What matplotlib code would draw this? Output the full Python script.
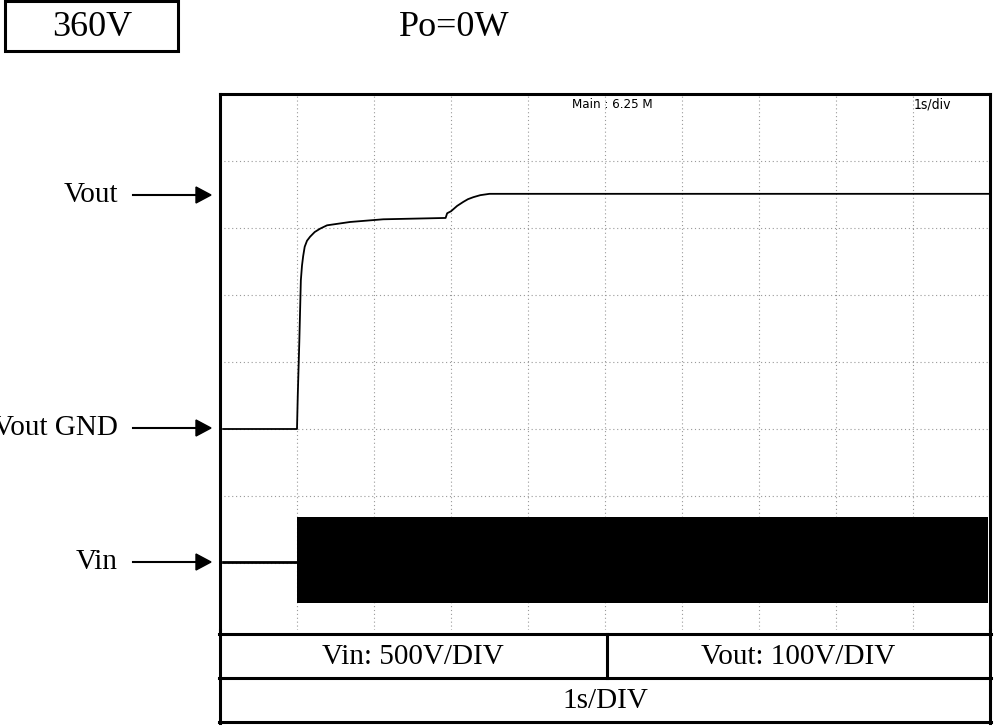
import matplotlib
matplotlib.use("Agg")
import matplotlib.pyplot as plt
from matplotlib.lines import Line2D
from matplotlib.patches import Rectangle, Polygon

# scope settings
vout_per_div = 100   # V/div
vin_per_div = 500    # V/div
vout_gnd_div = 3.0   # Vout ground marker (divisions from bottom)
vin_gnd_div = 1.02   # Vin ground marker

# Vout trace (s, V)
vout_t = [0.04, 1.00, 1.01, 1.03, 1.05, 1.065, 1.08, 1.10, 1.13, 1.17, 1.23, 1.30, 1.39,
          1.69, 2.12, 2.93, 2.95, 3.00, 3.08, 3.16, 3.22, 3.29, 3.38, 3.50, 9.98]
vout_v = [0, 0, 50, 130, 222, 244, 258, 272, 281, 287, 294, 299, 304,
          309, 313, 315, 322, 325, 333, 339, 343, 346, 349, 351, 351]

# Vin before start (s, V)
vin_pre_t = [0.04, 1.00]
vin_pre_v = [0, 0]
# Vin switching envelope (s, V)
vin_band_t = [1.00, 9.97]
vin_band_hi = [330, 330]
vin_band_lo = [-310, -310]

W, H = 994, 726
fig = plt.figure(figsize=(W / 100, H / 100), dpi=100)
serif = "Liberation Serif"


def fx(x):
    return x / W


def fy(y):
    return 1 - y / H


ax = fig.add_axes([fx(220), fy(630), (990 - 220) / W, (630 - 94) / H])
ax.set_xlim(0, 10)
ax.set_ylim(0, 8)
ax.set_xticks(range(1, 10))
ax.set_yticks(range(1, 8))
ax.tick_params(length=0, labelbottom=False, labelleft=False)
ax.set_axisbelow(True)
ax.grid(True, color="#999999", lw=0.8, ls=(0, (1, 2.5)))
for s in ["left", "top", "right"]:
    ax.spines[s].set_linewidth(2.2)
ax.spines["bottom"].set_visible(False)

ax.plot(vout_t, [vout_gnd_div + v / vout_per_div for v in vout_v], color="black", lw=1.3)
ax.plot(vin_pre_t, [vin_gnd_div + v / vin_per_div for v in vin_pre_v], color="black", lw=2)
ax.fill_between(vin_band_t,
                [vin_gnd_div + v / vin_per_div for v in vin_band_lo],
                [vin_gnd_div + v / vin_per_div for v in vin_band_hi],
                color="black", lw=0, zorder=3)

# on-screen annotations
fig.text(fx(572), fy(105), "Main : 6.25 M", family="DejaVu Sans", fontstretch="condensed",
         fontsize=9.5, va="center")
fig.text(fx(914), fy(104), "1s/div", family="DejaVu Sans", fontstretch="condensed",
         fontsize=10, va="center")

# header
fig.add_artist(Rectangle((fx(5), fy(51)), (178 - 5) / W, 50 / H, transform=fig.transFigure,
                         fill=False, lw=2.2, ec="black"))
fig.text(fx(92), fy(28), "360V", family=serif, fontsize=26, ha="center", va="center")
fig.text(fx(454), fy(28), "Po=0W", family=serif, fontsize=26, ha="center", va="center")

# left labels with arrows
for label, y in [("Vout", 195), ("Vout GND", 428), ("Vin", 562)]:
    fig.text(fx(118), fy(y), label, family=serif, fontsize=21, ha="right", va="center")
    fig.add_artist(Line2D([fx(133), fx(198)], [fy(y), fy(y)], transform=fig.transFigure,
                          color="black", lw=1.5))
    fig.add_artist(Polygon([(fx(196), fy(y - 8)), (fx(211), fy(y)), (fx(196), fy(y + 8))],
                           closed=True, transform=fig.transFigure, color="black"))


# table under the screen
def hline(x0, x1, y):
    fig.add_artist(Line2D([fx(x0), fx(x1)], [fy(y), fy(y)], transform=fig.transFigure,
                          color="black", lw=2.2))


def vline(x, y0, y1):
    fig.add_artist(Line2D([fx(x), fx(x)], [fy(y0), fy(y1)], transform=fig.transFigure,
                          color="black", lw=2.2))


hline(219, 991, 634)
hline(219, 991, 678)
hline(219, 991, 722)
vline(220, 630, 723)
vline(990, 630, 723)
vline(607, 634, 678)

fig.text(fx(413), fy(657), "Vin: 500V/DIV", family=serif, fontsize=21, ha="center", va="center")
fig.text(fx(798), fy(657), "Vout: 100V/DIV", family=serif, fontsize=21, ha="center", va="center")
fig.text(fx(605), fy(701), "1s/DIV", family=serif, fontsize=21, ha="center", va="center")

fig.savefig("out.png", dpi=100)
